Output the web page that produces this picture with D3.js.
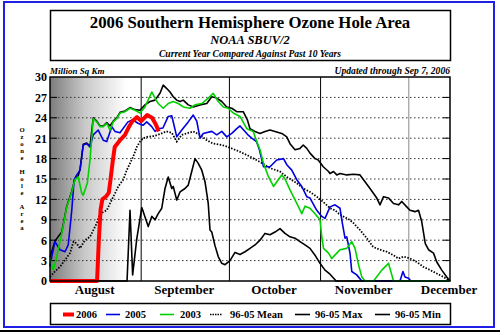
<!DOCTYPE html>
<html><head><meta charset="utf-8">
<script src="https://cdn.jsdelivr.net/npm/d3@7"></script>
<style>
html,body{margin:0;padding:0;background:#fff;}
svg{display:block;}
</style></head>
<body>
<script>
// days since Aug 1 -> area (million sq km)
const area2006 = [[0,0],[16,0],[16.6,6],[17.2,10.5],[17.8,12],[19,12.4],[20,13],[20.6,15],[21.3,17.5],[22,19.7],[23.8,20.7],[25.5,21.5],[27,22.8],[28,23.5],[29.6,24.1],[31,23.5],[33,24.4],[34.7,24],[36,23],[37,22]];
const area2005 = [[0,2.1],[0.6,3.6],[1.7,5.8],[3.4,4.6],[5.1,4.3],[6.2,5.3],[7.4,10.4],[8.2,14.9],[9.1,15.6],[10.2,16.3],[11.3,20],[12.5,20.2],[13.6,19.7],[14.7,21.5],[16.4,22.2],[18.1,20.7],[19.3,20.5],[21,22.7],[22.1,22],[23.8,21.8],[26.5,23.4],[28.2,23.7],[29.9,23.2],[31.6,22.9],[32.9,23.4],[34.6,22.7],[35.7,22],[36.8,22.4],[38.4,22.5],[40.2,24.2],[41.4,24.3],[43.1,21.2],[44.8,22.2],[47,23.4],[48.7,24.4],[49.9,23.5],[51,21],[52.1,21.7],[55,22],[56.7,21.5],[58.4,22],[60.1,21.2],[61.8,21.7],[63.5,22.4],[64.6,22.8],[67.3,21.5],[68.6,21],[70.2,20.5],[71.2,19.3],[72.6,16.8],[74.8,16.8],[77.1,17.8],[79.4,18],[80.5,17.1],[82.2,16.3],[83.9,14.9],[85.6,13.9],[87.3,12.4],[88.4,12.2],[90.7,10.4],[92.4,9.5],[93.5,9.2],[95.2,10.9],[96.9,11.2],[98.6,10.7],[99.2,9],[100.3,6.3],[100.9,6.5],[102,4.1],[102.6,1.4],[104.3,0.9],[106,0],[119,0],[120,1.4],[120.7,0.6],[121.9,0.4],[122.7,0],[136,0]];
const area2003 = [[0,3.3],[1.1,1.6],[2.3,3.6],[4,7],[5.7,10.9],[7.4,13.1],[8.5,14.9],[9.6,15.3],[10.8,12.9],[11.3,12.6],[12.7,14.4],[13.6,17.8],[14.7,23.9],[15.9,23.4],[17,22.7],[18.1,22.7],[19.3,23.2],[20.4,22.2],[21.5,23.4],[22.7,23.9],[23.8,24.7],[25.5,24.9],[27.2,25.4],[28.9,25.1],[30.6,24.7],[32.3,25.6],[34.6,27.8],[35.7,26.9],[36.8,26.1],[38.5,25.4],[40.2,26.1],[41.9,26.4],[43.6,26.1],[45.3,25.6],[47.6,25.4],[49.3,25.9],[51.6,26.1],[53.8,26.9],[55.5,27.6],[57.2,26.4],[58.9,25.6],[60.6,25.4],[62.3,24.7],[64.6,24.2],[66.9,22.4],[69.1,22],[70.3,20.5],[71.4,19.3],[72.6,17.3],[74.3,15.3],[76,13.9],[77.1,14.6],[78.8,15.6],[79.9,15],[81.6,13.4],[84.5,10.9],[85.6,9.9],[86.7,11],[88.4,10.7],[90.1,9.9],[91.8,9],[92.4,6.5],[93,4.8],[94.7,4.1],[95.8,3.3],[97.5,4.1],[98.6,4.6],[100.9,4.8],[102.6,5.8],[103.7,4.8],[104.9,2.4],[106,0.6],[107.1,0],[110,0],[112.8,1.6],[115.1,2.6],[116.2,0.9],[116.8,0],[136,0]];
const areaMean = [[0,0.6],[1.7,1.4],[3.4,2.1],[5.1,3.1],[6.8,4.1],[8,5.8],[9.1,5.5],[10.2,4.8],[11.9,6],[13.6,6.5],[15.9,8.5],[17,9.9],[19.3,10.4],[20.4,11.4],[22.1,12.9],[23.2,13.9],[24.9,14.9],[26.1,16.3],[27.2,17.3],[28.3,18.3],[29.5,19.7],[30.6,20.5],[31.7,21],[33,21.2],[35.1,21.3],[37.4,21.6],[39.5,22],[41.4,21.8],[43.1,20.5],[44.8,21.5],[46.5,21.7],[48.7,22],[51,21.5],[53.3,20.7],[55.5,20.2],[58.4,20],[60.6,19.7],[62.9,19.3],[64.6,19],[68,18.3],[71.4,17.5],[74.8,16.6],[78.2,16.1],[80.5,15.3],[83.9,14.4],[86.1,13.6],[88.4,13.1],[90.7,12.4],[93.5,11.4],[95.2,10.7],[96.9,10.4],[98.2,9.9],[99.7,9.5],[101.9,9],[103.2,8.5],[105.4,7.5],[107.7,6.3],[109.9,5],[112.2,4.6],[114.5,4.3],[116.7,3.8],[118.5,3.3],[120.2,3.6],[122.4,3.3],[124.7,2.8],[126.9,2.1],[129.3,1.6],[131.5,1.1],[133.8,0.6],[136,0]];
const areaMax = [[0,3.5],[1.7,5.9],[4,7.2],[5.7,11],[7.4,13.2],[8.5,15],[9.6,15.5],[10.2,16.4],[11.3,20.1],[12.5,20.3],[13.6,19.8],[14.7,24],[15.9,23.5],[17,22.8],[18.1,22.8],[19.3,23.3],[20.4,22.8],[21.5,23.5],[22.7,24],[23.8,24.8],[25.5,25],[27.2,25.5],[28.9,25.2],[30.6,25.1],[32.3,25.9],[34,26.4],[35.7,26.6],[37.4,27.6],[38.5,28.8],[39.7,28.3],[40.8,27.8],[41.9,27.1],[43.1,26.6],[44.2,26.4],[45.3,26.6],[47,25.9],[48.7,25.6],[51,25.9],[53.3,26.1],[55,27.1],[56.7,26.9],[58.4,26.4],[60.1,25.6],[61.8,25.4],[63.5,24.9],[65.7,24.9],[67.1,23.7],[68,22.4],[69.7,22],[71.4,21.7],[73.1,22],[74.8,22.2],[76.5,22],[78.8,21.7],[80.5,21.2],[81.6,20.2],[83.3,19.3],[85,19.5],[86.1,20],[87.3,19.5],[88.4,18.8],[90.1,18],[91.2,17.8],[92.9,16.8],[94.7,16.1],[95.2,15.8],[96.4,16.1],[97.5,15.6],[98.6,15.8],[100.9,15.6],[103.2,15.7],[105.4,15.6],[106.6,14.9],[108.8,13.6],[111.1,12.2],[112.2,11.2],[113.4,12.4],[115.1,12.2],[116.8,11.4],[118.5,11.2],[119.6,11.7],[121.3,10.9],[122.4,10.4],[124.1,10.2],[125.3,10.4],[126.4,8.7],[127.6,5.5],[128.7,4.6],[130.4,4.1],[131.5,2.8],[133.2,1.6],[134.9,0.6],[136,0]];
const areaMin = [[0,0],[26.2,0],[27.2,10.4],[28.1,0.9],[29.5,6.2],[31.2,10.8],[31.7,10.2],[33.4,8],[34.6,9.5],[35.7,9],[36.8,9.9],[38,10.7],[39.1,13.6],[40.2,15.3],[41.4,13.6],[41.9,13.9],[43.1,11.9],[44.2,13.1],[45.9,13.6],[47,14.1],[47.6,15.1],[49.3,18],[50.4,17.3],[51.6,16.3],[52.7,14.6],[53.8,11.4],[54.4,7.5],[55,7.2],[56.1,5.2],[57.2,3.6],[58.4,2.6],[59.5,2.4],[61.2,3],[62.9,4.2],[64.6,3.9],[66.3,4.3],[68,4.8],[69.7,5.3],[71.4,6],[73.1,7],[74.8,6.8],[76.5,7.2],[78.2,7.7],[79.9,7],[81.6,6.5],[83.3,6.3],[85,5.8],[86.7,5.3],[88.4,4.8],[90.1,3.8],[91.8,2.6],[93.5,1.6],[95.2,1],[97.3,0],[136,0]];

const yTicks = [0,3,6,9,12,15,18,21,24,27,30];
const monthStarts = [31,61,92,122];
const monthNames = ["August","September","October","November","December"];
const monthMids = [15,45.5,76,106.5,135.5];
const legendLabels = ["2006","2005","2003","96-05 Mean","96-05 Max","96-05 Min"];

const FONT="Liberation Serif";
const W=500,H=333;
const svg=d3.select("body").append("svg").attr("width",W).attr("height",H)
  .attr("font-family",FONT).attr("font-weight","bold");
const L=50,R=450,T=77,B=281;
const x=d3.scaleLinear().domain([0,136]).range([L,R]);
const y=d3.scaleLinear().domain([0,30]).range([B,T]);
function txt(px,py,s,size,opts={}){
  const t=svg.append("text").attr("x",px).attr("y",py).attr("font-family",FONT).attr("font-weight","bold")
    .attr("font-size",size).attr("text-anchor",opts.anchor||"start").text(s);
  if(opts.italic)t.attr("font-style","italic");
  return t;
}

// outer border
svg.append("rect").attr("x",4).attr("y",2).attr("width",490).attr("height",325).attr("fill","none").attr("stroke","#1f1fe6").attr("stroke-width",2);
svg.append("line").attr("x1",0).attr("x2",W).attr("y1",331).attr("y2",331).attr("stroke","#000").attr("stroke-width",2);

// title box
svg.append("rect").attr("x",50.5).attr("y",10.5).attr("width",400).attr("height",50).attr("fill","none").attr("stroke","#000").attr("stroke-width",1.5);
txt(250,28,"2006 Southern Hemisphere Ozone Hole Area",16.8,{anchor:"middle"});
txt(250,44,"NOAA SBUV/2",12.5,{anchor:"middle",italic:true});
txt(250,57,"Current Year Compared Against Past 10 Years",9.6,{anchor:"middle",italic:true});
txt(50,74,"Million Sq Km",9,{italic:true});
txt(450,74,"Updated through Sep 7, 2006",9.6,{anchor:"end",italic:true});

// gradient
const defs=svg.append("defs");
const g=defs.append("linearGradient").attr("id","shade").attr("x1",0).attr("x2",1).attr("y1",0).attr("y2",0);
g.append("stop").attr("offset",0).attr("stop-color","#7c7c7c");
g.append("stop").attr("offset",0.45).attr("stop-color","#c8c8c8");
g.append("stop").attr("offset",1).attr("stop-color","#ffffff");
svg.append("rect").attr("x",L).attr("y",T).attr("width",x(26)-L).attr("height",B-T).attr("fill","url(#shade)");

// horizontal grid
const grid=svg.append("g");
yTicks.filter(v=>v>0&&v<30).forEach(v=>{
  grid.append("line").attr("x1",L).attr("x2",R).attr("y1",y(v)).attr("y2",y(v)).attr("stroke","#333").attr("stroke-width",1).attr("stroke-dasharray","1.5,2.5");
  grid.append("line").attr("x1",R-7).attr("x2",R).attr("y1",y(v)).attr("y2",y(v)).attr("stroke","#000").attr("stroke-width",1);
  grid.append("line").attr("x1",L).attr("x2",L+7).attr("y1",y(v)).attr("y2",y(v)).attr("stroke","#000").attr("stroke-width",1);
});
monthStarts.forEach((d,i)=>{
  svg.append("line").attr("x1",x(d)).attr("x2",x(d)).attr("y1",T).attr("y2",B).attr("stroke",i==3?"#888":"#000").attr("stroke-width",1);
});

// y axis labels
const yAxis=d3.axisLeft(y).tickValues(yTicks).tickSize(0).tickPadding(3);
const ya=svg.append("g").attr("transform",`translate(${L},0)`).call(yAxis)
  .attr("font-family",FONT).attr("font-weight","bold").attr("font-size",12);
ya.select(".domain").remove();
ya.selectAll("text").attr("fill","#000");

// x month labels
const xAxis=d3.axisBottom(x).tickValues(monthMids).tickFormat((d,i)=>monthNames[i]).tickSize(0).tickPadding(4);
const xa=svg.append("g").attr("transform",`translate(0,${B})`).call(xAxis)
  .attr("font-family",FONT).attr("font-weight","bold").attr("font-size",13);
xa.select(".domain").remove();
xa.selectAll("text").attr("fill","#000");

// stacked y title (upright vertical text)
txt(22,126,"Ozone Hole Area",6.7)
  .style("writing-mode","vertical-rl").style("text-orientation","upright");

// lines
const line=d3.line().x(d=>x(d[0])).y(d=>y(d[1]));
const plot=svg.append("g");
plot.append("path").datum(areaMin).attr("d",line).attr("fill","none").attr("stroke","#000").attr("stroke-width",1.6).attr("stroke-linejoin","round");
plot.append("path").datum(areaMax).attr("d",line).attr("fill","none").attr("stroke","#000").attr("stroke-width",1.6).attr("stroke-linejoin","round");
plot.append("path").datum(areaMean).attr("d",line).attr("fill","none").attr("stroke","#000").attr("stroke-width",1.8).attr("stroke-dasharray","1.5,1.5");
plot.append("path").datum(area2005).attr("d",line).attr("fill","none").attr("stroke","#0000e0").attr("stroke-width",1.6).attr("stroke-linejoin","round");
plot.append("path").datum(area2003).attr("d",line).attr("fill","none").attr("stroke","#00d000").attr("stroke-width",1.6).attr("stroke-linejoin","round");
plot.append("path").datum(area2006).attr("d",line).attr("fill","none").attr("stroke","#ff0000").attr("stroke-width",4).attr("stroke-linejoin","round");

// plot frame
svg.append("rect").attr("x",L).attr("y",T).attr("width",R-L).attr("height",B-T).attr("fill","none").attr("stroke","#000").attr("stroke-width",1.5);

// legend
svg.append("rect").attr("x",50.5).attr("y",303.5).attr("width",400).attr("height",21).attr("fill","none").attr("stroke","#000").attr("stroke-width",1.5);
const legItems=[
  {lx:[63,74],tx:76,c:"#ff0000",w:4,dash:null},
  {lx:[106,120],tx:125,c:"#0000e0",w:1.6,dash:null},
  {lx:[160,174],tx:180,c:"#00d000",w:1.6,dash:null},
  {lx:[210,222],tx:230,c:"#000",w:1.5,dash:"1.5,1"},
  {lx:[295,310],tx:315,c:"#000",w:1.6,dash:null},
  {lx:[375,390],tx:395,c:"#000",w:1.6,dash:null}
];
legItems.forEach((it,i)=>{
  const l=svg.append("line").attr("x1",it.lx[0]).attr("x2",it.lx[1]).attr("y1",314.5).attr("y2",314.5).attr("stroke",it.c).attr("stroke-width",it.w);
  if(it.dash)l.attr("stroke-dasharray",it.dash);
  txt(it.tx,318,legendLabels[i],10.5);
});
</script>
</body></html>
